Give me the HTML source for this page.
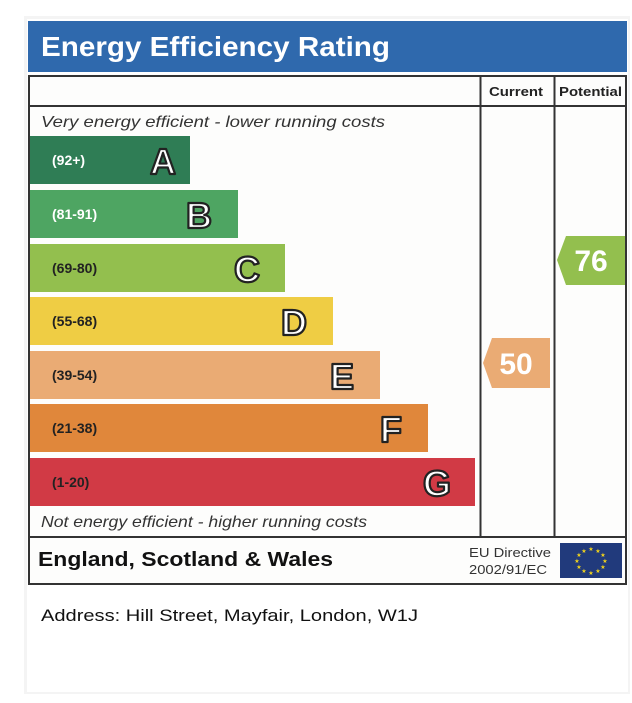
<!DOCTYPE html>
<html><head><style>
body{margin:0;background:#fff;width:632px;height:698px;overflow:hidden}
svg{font-family:"Liberation Sans",Arial,sans-serif}
</style></head><body>
<svg width="632" height="698" xmlns="http://www.w3.org/2000/svg">
<rect x="24" y="16" width="606" height="678" fill="#f4f4f4"/>
<rect x="27" y="19" width="601" height="673" fill="#fff"/>
<rect x="28" y="21" width="599" height="51" fill="#2f69ad"/>
<text x="41" y="56" font-size="28" font-weight="bold" fill="#fff" textLength="349" lengthAdjust="spacingAndGlyphs">Energy Efficiency Rating</text>
<rect x="29" y="76" width="597" height="508" fill="#fdfdfc" stroke="#333" stroke-width="2"/>
<line x1="29" y1="106" x2="626" y2="106" stroke="#333" stroke-width="2"/>
<line x1="29" y1="537" x2="626" y2="537" stroke="#333" stroke-width="2"/>
<line x1="480.5" y1="76" x2="480.5" y2="537" stroke="#333" stroke-width="2"/>
<line x1="554.5" y1="76" x2="554.5" y2="537" stroke="#333" stroke-width="2"/>
<text x="489" y="96" font-size="13" font-weight="bold" fill="#222" textLength="54" lengthAdjust="spacingAndGlyphs">Current</text>
<text x="559" y="96" font-size="13" font-weight="bold" fill="#222" textLength="63" lengthAdjust="spacingAndGlyphs">Potential</text>
<text x="41" y="127" font-size="16" font-style="italic" fill="#333" textLength="344" lengthAdjust="spacingAndGlyphs">Very energy efficient - lower running costs</text>
<text x="41" y="527" font-size="16" font-style="italic" fill="#333" textLength="326" lengthAdjust="spacingAndGlyphs">Not energy efficient - higher running costs</text>
<g font-weight="bold" stroke-linejoin="round">
<rect x="30" y="136" width="160" height="48" fill="#2f7d55"/>
<text x="52" y="165" font-size="14" fill="#fff">(92+)</text>
<text x="163" y="174" font-size="36" text-anchor="middle" fill="#fff" stroke="#222" stroke-width="2.2">A</text>
<rect x="30" y="190" width="208" height="48" fill="#4ea562"/>
<text x="52" y="219" font-size="14" fill="#fff">(81-91)</text>
<text x="199" y="228" font-size="36" text-anchor="middle" fill="#fff" stroke="#222" stroke-width="2.2">B</text>
<rect x="30" y="244" width="255" height="48" fill="#93bf4e"/>
<text x="52" y="273" font-size="14" fill="#222">(69-80)</text>
<text x="247" y="282" font-size="36" text-anchor="middle" fill="#fff" stroke="#222" stroke-width="2.2">C</text>
<rect x="30" y="297" width="303" height="48" fill="#efcd44"/>
<text x="52" y="326" font-size="14" fill="#222">(55-68)</text>
<text x="294" y="335" font-size="36" text-anchor="middle" fill="#fff" stroke="#222" stroke-width="2.2">D</text>
<rect x="30" y="351" width="350" height="48" fill="#eaab74"/>
<text x="52" y="380" font-size="14" fill="#222">(39-54)</text>
<text x="342" y="389" font-size="36" text-anchor="middle" fill="#fff" stroke="#222" stroke-width="2.2">E</text>
<rect x="30" y="404" width="398" height="48" fill="#e0873b"/>
<text x="52" y="433" font-size="14" fill="#222">(21-38)</text>
<text x="391" y="442" font-size="36" text-anchor="middle" fill="#fff" stroke="#222" stroke-width="2.2">F</text>
<rect x="30" y="458" width="445" height="48" fill="#d13a45"/>
<text x="52" y="487" font-size="14" fill="#222">(1-20)</text>
<text x="437" y="496" font-size="36" text-anchor="middle" fill="#fff" stroke="#222" stroke-width="2.2">G</text>
</g>
<polygon points="492,338 550,338 550,388 492,388 483,363" fill="#eaab74"/>
<text x="516" y="374" font-size="30" font-weight="bold" text-anchor="middle" fill="#fff">50</text>
<polygon points="566,236 625,236 625,285 566,285 557,260" fill="#93bf4e"/>
<text x="591" y="271" font-size="30" font-weight="bold" text-anchor="middle" fill="#fff">76</text>
<text x="38" y="566" font-size="20" font-weight="bold" fill="#111" textLength="295" lengthAdjust="spacingAndGlyphs">England, Scotland &amp; Wales</text>
<text x="469" y="557" font-size="13" fill="#333" textLength="82" lengthAdjust="spacingAndGlyphs">EU Directive</text>
<text x="469" y="574" font-size="13" fill="#333" textLength="78" lengthAdjust="spacingAndGlyphs">2002/91/EC</text>
<rect x="560" y="543" width="62" height="35" fill="#213a7c"/>
<g fill="#f2d41b" font-size="6" text-anchor="middle">
<text x="591" y="551">★</text><text x="598" y="553">★</text><text x="603" y="557">★</text><text x="605" y="563">★</text><text x="603" y="569">★</text><text x="598" y="573">★</text><text x="591" y="575">★</text><text x="584" y="573">★</text><text x="579" y="569">★</text><text x="577" y="563">★</text><text x="579" y="557">★</text><text x="584" y="553">★</text>
</g>
<text x="41" y="621" font-size="17" fill="#111" textLength="377" lengthAdjust="spacingAndGlyphs">Address: Hill Street, Mayfair, London, W1J</text>
</svg>
</body></html>
